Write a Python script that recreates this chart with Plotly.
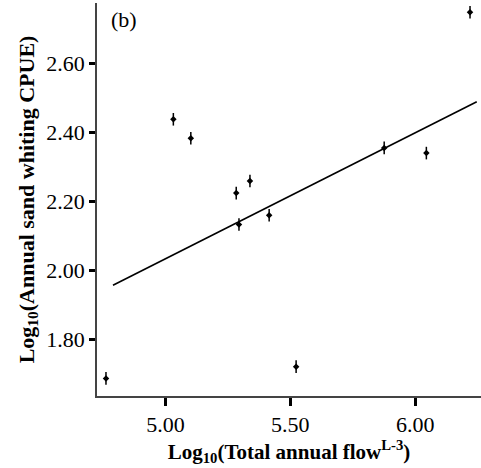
import plotly.graph_objects as go

flow = [4.761, 5.031, 5.101, 5.283, 5.294, 5.338, 5.415, 5.523, 5.876, 6.045, 6.220]
cpue = [1.687, 2.438, 2.383, 2.224, 2.133, 2.259, 2.160, 1.721, 2.355, 2.340, 2.748]
fit_x = [4.789, 6.247]
fit_y = [1.957, 2.489]
x_ticks = [5.0, 5.5, 6.0]
y_ticks = [1.8, 2.0, 2.2, 2.4, 2.6]

font = "Liberation Serif"

fig = go.Figure()
fig.add_trace(go.Scatter(x=fit_x, y=fit_y, mode="lines",
                         line=dict(color="black", width=1.6), showlegend=False))
fig.add_trace(go.Scatter(x=flow, y=cpue, mode="markers",
                         marker=dict(symbol="line-ns-open", size=9, color="black",
                                     line=dict(color="black", width=1.5)),
                         showlegend=False))
fig.add_trace(go.Scatter(x=flow, y=cpue, mode="markers",
                         marker=dict(symbol="diamond", size=5, color="black"),
                         showlegend=False))

fig.add_annotation(text="(b)", x=0.03, y=0.995, xref="paper", yref="paper",
                   xanchor="left", yanchor="top", showarrow=False,
                   font=dict(family=font, size=22, color="black"))

fig.update_layout(
    width=481, height=468,
    margin=dict(l=97, r=0, t=3, b=72),
    paper_bgcolor="white", plot_bgcolor="white",
    font=dict(family=font, color="black"),
    xaxis=dict(range=[4.725, 6.264], tickvals=x_ticks,
               ticktext=[f"{v:.2f}" for v in x_ticks],
               showgrid=False, zeroline=False, showline=True,
               linecolor="#444", linewidth=1.5,
               ticks="outside", ticklen=8, tickwidth=2.5, tickcolor="black",
               tickfont=dict(family=font, size=22),
               title=dict(text="<b>Log<sub>10</sub>(Total annual flow<sup>L-3</sup>)</b>",
                          font=dict(family=font, size=21), standoff=0)),
    yaxis=dict(range=[1.636, 2.775], tickvals=y_ticks,
               ticktext=[f"{v:.2f}" for v in y_ticks],
               showgrid=False, zeroline=False, showline=True,
               linecolor="#444", linewidth=1.5,
               ticks="outside", ticklen=6, tickwidth=2.5, tickcolor="black",
               tickfont=dict(family=font, size=22),
               title=dict(text="<b>Log<sub>10</sub>(Annual sand whiting CPUE)</b>",
                          font=dict(family=font, size=22), standoff=6)),
)

fig.write_html("out.html")
